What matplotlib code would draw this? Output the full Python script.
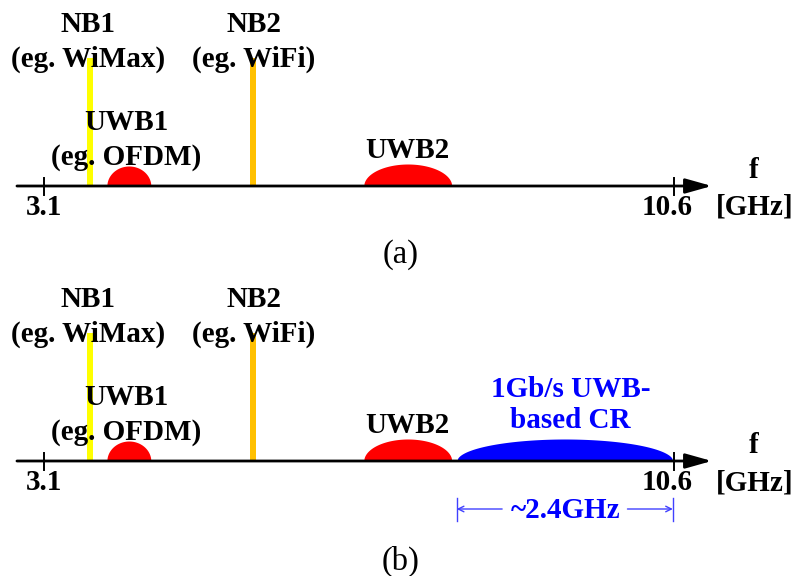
import numpy as np
import matplotlib
matplotlib.use("Agg")
import matplotlib.pyplot as plt

plt.rcParams['font.family'] = ['Liberation Serif', 'DejaVu Serif']

# --- spectrum data (GHz / relative level) ---
tick_freqs = [3.1, 10.6]
tick_labels = ['3.1', '10.6']

nb_names = ['NB1', 'NB2']
nb_examples = ['(eg. WiMax)', '(eg. WiFi)']
nb_freqs = [3.65, 5.59]
nb_levels = [128, 128]
nb_colors = ['#FFFF00', '#FFC000']

uwb_names = ['UWB1', 'UWB2']
uwb_examples = ['(eg. OFDM)', '']
uwb_centers = [4.11, 7.43]
uwb_halfwidths = [0.262, 0.524]
uwb_levels = [20, 22]

cr_center = 9.30
cr_halfwidth = 1.286
cr_level = 22
cr_label = '1Gb/s UWB-\nbased CR'
cr_span_label = '~2.4GHz'

panel_labels = ['(a)', '(b)']

# pixel mapping: 84 px per GHz, 3.1 GHz sits at x=44
X0 = 3.1 - 44 / 84
X1 = X0 + 795 / 84
AX_START, AX_END = 2.778, 11.05
MID = X0 + 401 / 84

FS = 21


def dome(ax, c, hw, h, color):
    u = np.linspace(-1, 1, 200)
    ax.fill_between(c + hw * u, 0, h * np.sqrt(1 - u ** 2), color=color, lw=0, zorder=2)


def label(ax, x, y, s, **kw):
    ax.text(x, y, s, ha='center', va='baseline', fontsize=FS, fontweight='bold', zorder=5, **kw)


def draw_panel(ax, name, name_y, with_cr):
    ax.set_xlim(X0, X1)
    ax.axis('off')

    for f, lev, col in zip(nb_freqs, nb_levels, nb_colors):
        ax.bar(f, lev, width=0.072, bottom=0, color=col, lw=0, zorder=1)
    for n, ex, f in zip(nb_names, nb_examples, [3.62, 5.595]):
        label(ax, f, 154, n)
        label(ax, f, 119, ex)

    for c, hw, h in zip(uwb_centers, uwb_halfwidths, uwb_levels):
        dome(ax, c, hw, h, 'red')
    label(ax, 4.08, 56, uwb_names[0])
    label(ax, 4.08, 21, uwb_examples[0])
    label(ax, uwb_centers[1], 28, uwb_names[1])

    # frequency axis with arrow
    ax.annotate('', xy=(AX_END, 0), xytext=(AX_START, 0),
                arrowprops=dict(arrowstyle='-|>,head_length=1.6,head_width=0.45', lw=2,
                                color='black', shrinkA=0, shrinkB=0), zorder=4)
    for f, t in zip(tick_freqs, tick_labels):
        ax.plot([f, f], [8, -9], color='black', lw=1.4, zorder=4)
        label(ax, f - (0.08 if t == '10.6' else 0), -29, t)
    label(ax, 11.55, 8, 'f')
    label(ax, 11.56, -29, '[GHz]')

    if with_cr:
        dome(ax, cr_center, cr_halfwidth, cr_level, 'blue')
        label(ax, 9.37, 33, cr_label, color='blue', linespacing=1.2)
        left, right = cr_center - cr_halfwidth, cr_center + cr_halfwidth
        label(ax, 9.31, -57, cr_span_label, color='blue')
        for a, b in ((left, left + 0.54), (right, right - 0.54)):
            ax.annotate('', xy=(a, -48), xytext=(b, -48),
                        arrowprops=dict(arrowstyle='->', lw=1, color='#4040ff',
                                        shrinkA=0, shrinkB=0))
            ax.plot([a, a], [-37, -60], color='#4040ff', lw=1)

    ax.text(MID, name_y, name, ha='center', va='baseline', fontsize=23.5)


fig = plt.figure(figsize=(7.95, 5.76), dpi=100)
ax_a = fig.add_axes([0, 1 - 275 / 576, 1, 275 / 576])
ax_a.set_ylim(-89, 186)
ax_b = fig.add_axes([0, 0, 1, 301 / 576])
ax_b.set_ylim(-115, 186)

draw_panel(ax_a, panel_labels[0], -77, False)
draw_panel(ax_b, panel_labels[1], -109, True)

fig.savefig('out.png', dpi=100)
